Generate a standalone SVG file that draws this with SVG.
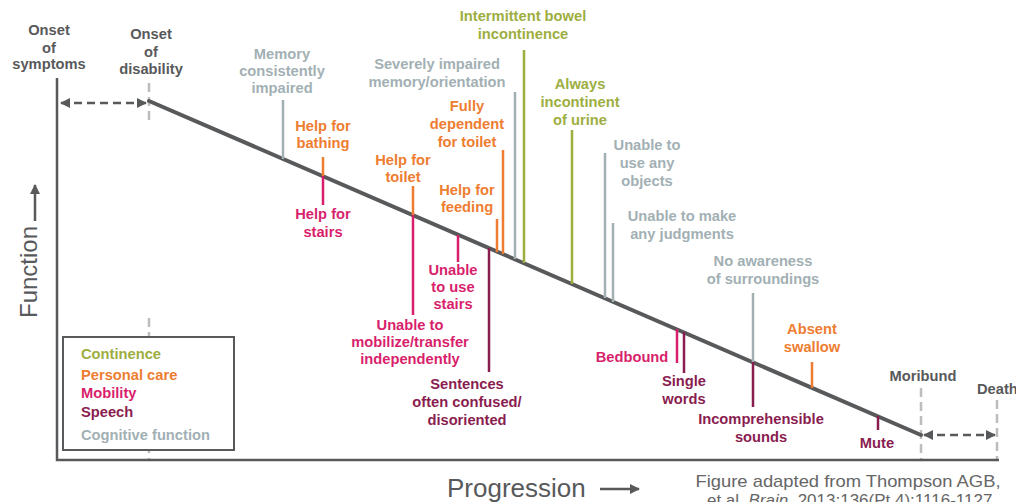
<svg xmlns="http://www.w3.org/2000/svg" width="1016" height="502" viewBox="0 0 1016 502">
<defs>
<style>
text{font-family:"Liberation Sans",Arial,sans-serif;}
.lbl{font-size:14.7px;font-weight:bold;text-anchor:middle;}
.leg{font-size:14.7px;font-weight:bold;}
.dk{fill:#58595b;}
.cog{fill:#a2b0b4;}
.or{fill:#ee7d31;}
.gr{fill:#9dae3f;}
.pk{fill:#d81f6c;}
.mr{fill:#8a1d50;}
.tk{stroke-width:2.5;fill:none;}
.tcog{stroke:#a2b0b4;}
.tor{stroke:#ee7d31;}
.tgr{stroke:#9dae3f;}
.tpk{stroke:#d81f6c;}
.tmr{stroke:#8a1d50;}
.vdash{stroke:#bdbdbd;stroke-width:2.5;stroke-dasharray:9 5;fill:none;}
.hdash{stroke:#58595b;stroke-width:2.5;stroke-dasharray:8 5;fill:none;}
.axis{stroke:#58595b;stroke-width:2.5;fill:none;}
</style>
<marker id="ah" viewBox="0 0 10 10" refX="9" refY="5" markerWidth="4" markerHeight="4" orient="auto-start-reverse" markerUnits="strokeWidth">
<path d="M0,0 L10,5 L0,10 z" fill="#58595b"/>
</marker>
<marker id="ax" viewBox="0 0 10 10" refX="9" refY="5" markerWidth="11" markerHeight="10" orient="auto" markerUnits="userSpaceOnUse">
<path d="M0,0 L10,5 L0,10 z" fill="#58595b"/>
</marker>
</defs>

<g id="axes">
<line class="vdash" x1="149" y1="83" x2="149" y2="123"/>
<line class="vdash" x1="149" y1="318" x2="149" y2="459"/>
<line class="vdash" x1="921" y1="388" x2="921" y2="459"/>
<line class="vdash" x1="997" y1="400" x2="997" y2="459"/>
<polyline class="axis" points="57,78 57,460 999,460"/>
</g>

<g id="connectors">
<line x1="149" y1="101" x2="921" y2="435" stroke="#58595b" stroke-width="4" stroke-linecap="round"/>
<line class="hdash" x1="61" y1="103" x2="146" y2="103" marker-start="url(#ah)" marker-end="url(#ah)"/>
<line class="hdash" x1="924" y1="435" x2="995" y2="435" marker-start="url(#ah)" marker-end="url(#ah)"/>
<line class="tk tcog" x1="283" y1="100" x2="283" y2="159"/>
<line class="tk tor" x1="323" y1="157" x2="323" y2="176"/>
<line class="tk tpk" x1="323" y1="176" x2="323" y2="205"/>
<line class="tk tor" x1="413" y1="186" x2="413" y2="215"/>
<line class="tk tpk" x1="413" y1="215" x2="413" y2="315"/>
<line class="tk tor" x1="497" y1="219" x2="497" y2="252"/>
<line class="tk tor" x1="503" y1="150" x2="503" y2="254"/>
<line class="tk tpk" x1="458" y1="235" x2="458" y2="262"/>
<line class="tk tmr" x1="489" y1="248" x2="489" y2="372"/>
<line class="tk tcog" x1="515" y1="92" x2="515" y2="259"/>
<line class="tk tgr" x1="524" y1="50" x2="524" y2="263"/>
<line class="tk tgr" x1="572" y1="130" x2="572" y2="284"/>
<line class="tk tcog" x1="605" y1="153" x2="605" y2="298"/>
<line class="tk tcog" x1="613" y1="223" x2="613" y2="302"/>
<line class="tk tcog" x1="753" y1="293" x2="753" y2="362"/>
<line class="tk tmr" x1="753" y1="362" x2="753" y2="407"/>
<line class="tk tpk" x1="677" y1="329" x2="677" y2="363"/>
<line class="tk tmr" x1="684" y1="332" x2="684" y2="373"/>
<line class="tk tor" x1="812" y1="362" x2="812" y2="388"/>
<line class="tk tmr" x1="878" y1="416" x2="878" y2="430"/>
</g>

<g id="onset-symptoms"><text class="lbl dk"><tspan x="49" y="35">Onset</tspan><tspan x="49" y="52.5">of</tspan><tspan x="49" y="69">symptoms</tspan></text></g>
<g id="onset-disability"><text class="lbl dk"><tspan x="151" y="39">Onset</tspan><tspan x="151" y="56.5">of</tspan><tspan x="151" y="74">disability</tspan></text></g>
<g id="moribund"><text class="lbl dk" x="923" y="381">Moribund</text></g>
<g id="death"><text class="leg dk" x="977" y="394">Death</text></g>

<g id="memory"><text class="lbl cog"><tspan x="282" y="59">Memory</tspan><tspan x="282" y="76">consistently</tspan><tspan x="282" y="93">impaired</tspan></text></g>
<g id="severely"><text class="lbl cog"><tspan x="437" y="69">Severely impaired</tspan><tspan x="437" y="87">memory/orientation</tspan></text></g>
<g id="objects"><text class="lbl cog"><tspan x="647" y="150">Unable to</tspan><tspan x="647" y="168">use any</tspan><tspan x="647" y="186">objects</tspan></text></g>
<g id="judgments"><text class="lbl cog"><tspan x="682" y="221">Unable to make</tspan><tspan x="682" y="239">any judgments</tspan></text></g>
<g id="awareness"><text class="lbl cog"><tspan x="763" y="266">No awareness</tspan><tspan x="763" y="284">of surroundings</tspan></text></g>

<g id="bathing"><text class="lbl or"><tspan x="323" y="131">Help for</tspan><tspan x="323" y="148">bathing</tspan></text></g>
<g id="fully-dependent"><text class="lbl or"><tspan x="467" y="111">Fully</tspan><tspan x="467" y="129">dependent</tspan><tspan x="467" y="147">for toilet</tspan></text></g>
<g id="help-toilet"><text class="lbl or"><tspan x="403" y="165">Help for</tspan><tspan x="403" y="182">toilet</tspan></text></g>
<g id="feeding"><text class="lbl or"><tspan x="467" y="195">Help for</tspan><tspan x="467" y="212">feeding</tspan></text></g>
<g id="swallow"><text class="lbl or"><tspan x="812" y="334">Absent</tspan><tspan x="812" y="352">swallow</tspan></text></g>

<g id="bowel"><text class="lbl gr"><tspan x="523" y="21">Intermittent bowel</tspan><tspan x="523" y="39">incontinence</tspan></text></g>
<g id="urine"><text class="lbl gr"><tspan x="580" y="89">Always</tspan><tspan x="580" y="107">incontinent</tspan><tspan x="580" y="125">of urine</tspan></text></g>

<g id="stairs"><text class="lbl pk"><tspan x="323" y="219">Help for</tspan><tspan x="323" y="237">stairs</tspan></text></g>
<g id="mobilize"><text class="lbl pk"><tspan x="410" y="330">Unable to</tspan><tspan x="410" y="347">mobilize/transfer</tspan><tspan x="410" y="364">independently</tspan></text></g>
<g id="use-stairs"><text class="lbl pk"><tspan x="453" y="275">Unable</tspan><tspan x="453" y="292">to use</tspan><tspan x="453" y="309">stairs</tspan></text></g>
<g id="bedbound"><text class="lbl pk" x="632" y="362">Bedbound</text></g>

<g id="sentences"><text class="lbl mr"><tspan x="467" y="389">Sentences</tspan><tspan x="467" y="407">often confused/</tspan><tspan x="467" y="425">disoriented</tspan></text></g>
<g id="single-words"><text class="lbl mr"><tspan x="684" y="386">Single</tspan><tspan x="684" y="404">words</tspan></text></g>
<g id="incomprehensible"><text class="lbl mr"><tspan x="761" y="424">Incomprehensible</tspan><tspan x="761" y="442">sounds</tspan></text></g>
<g id="mute"><text class="lbl mr" x="877" y="448">Mute</text></g>

<g id="legend">
<rect x="63" y="337" width="171" height="113" fill="#fff" stroke="#58595b" stroke-width="2"/>
<text class="leg gr" x="81" y="359">Continence</text>
<text class="leg or" x="81" y="380">Personal care</text>
<text class="leg pk" x="81" y="398">Mobility</text>
<text class="leg mr" x="81" y="417">Speech</text>
<text class="leg cog" x="81" y="440">Cognitive function</text>
</g>

<g id="axis-labels">
<text x="0" y="0" transform="translate(37,318) rotate(-90)" font-size="24" fill="#58595b">Function</text>
<line x1="35" y1="221" x2="35" y2="185" stroke="#58595b" stroke-width="2.5" marker-end="url(#ax)"/>
<text x="447" y="497" font-size="26" fill="#58595b">Progression</text>
<line x1="600" y1="489" x2="639" y2="489" stroke="#58595b" stroke-width="2.5" marker-end="url(#ax)"/>
</g>

<g id="citation">
<text x="848" y="487" font-size="17" fill="#666" text-anchor="middle" textLength="305" lengthAdjust="spacingAndGlyphs">Figure adapted from Thompson AGB,</text>
<text x="852" y="506" font-size="17" fill="#666" text-anchor="middle">et al. <tspan font-style="italic">Brain</tspan>. 2013;136(Pt 4):1116-1127.</text>
</g>
</svg>
